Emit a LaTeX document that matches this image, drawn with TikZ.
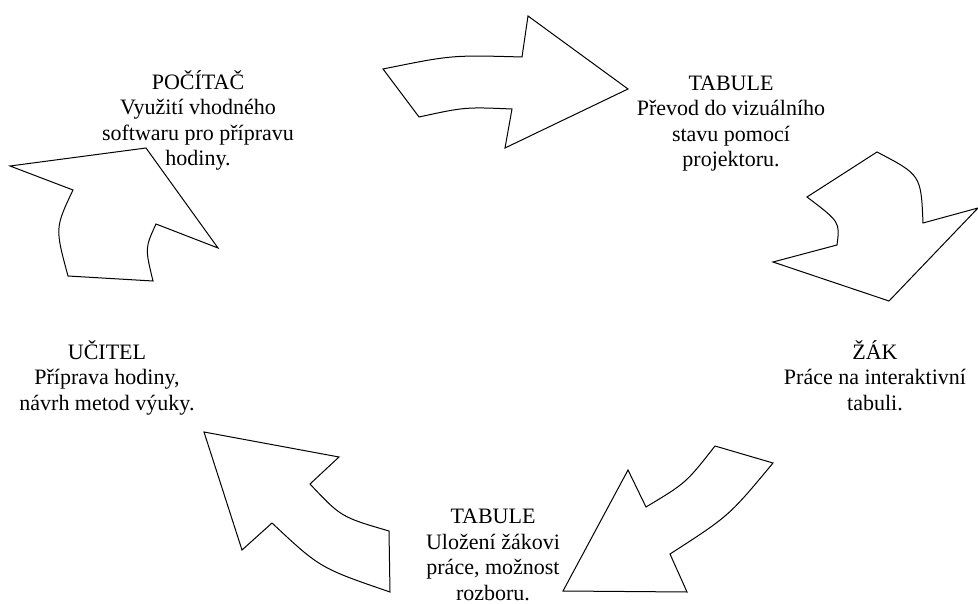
\documentclass[tikz,border=0pt]{standalone}
\usepackage{fontspec}
\setmainfont{Liberation Serif}
\usepackage{tikz}
\tikzset{
  blockarrow/.style={draw=black, line width=1pt, fill=white, line join=miter},
  caption/.style={align=center, font=\fontsize{22}{25.5}\selectfont, inner sep=0pt}
}

\begin{document}
\begin{tikzpicture}[x=1pt,y=-1pt]
  \useasboundingbox (0,0) rectangle (978,604);
  % labels (base = last line)
  \node [style=caption, anchor=base] (pocitac) at (198,166) {POČÍTAČ\\Využití vhodného\\softwaru pro přípravu\\hodiny.};
  \node [style=caption, anchor=base] (tabule1) at (731,167) {TABULE\\Převod do vizuálního\\stavu pomocí\\projektoru.};
  \node [style=caption, anchor=base] (zak) at (875,410) {ŽÁK\\Práce na interaktivní\\tabuli.};
  \node [style=caption, anchor=base] (tabule2) at (493,600) {TABULE\\Uložení žákovi\\práce, možnost\\rozboru.};
  \node [style=caption, anchor=base] (ucitel) at (107,410) {UČITEL\\Příprava hodiny,\\návrh metod výuky.};
  % arrows
  \draw [style=blockarrow] (383,69) .. controls (452,55) .. (522,57) -- (528,16) -- (628,89)
    -- (505,148) -- (512,109) .. controls (465,107) .. (419,117) -- cycle;
  \draw [style=blockarrow] (877,152) .. controls (921,175) .. (923,223) -- (978,208) -- (889,301)
    -- (773,262) -- (837,245) .. controls (840,222) .. (807,197) -- cycle;
  \draw [style=blockarrow] (715,446) -- (773,463) .. controls (729,516) .. (670,554) -- (687,592)
    -- (563,591) -- (628,470) -- (646,507) .. controls (686,483) .. (715,446);
  \draw [style=blockarrow] (204,432) -- (339,457) -- (310,484) .. controls (341,517) .. (389,531)
    -- (390,592) .. controls (320,568) .. (272,523) -- (242,550) -- cycle;
  \draw [style=blockarrow] (10,166) -- (73,190) .. controls (55,228) .. (68,276) -- (153,281)
    .. controls (145,248) .. (156,224) -- (218,248) -- (146,148) -- cycle;
\end{tikzpicture}
\end{document}
